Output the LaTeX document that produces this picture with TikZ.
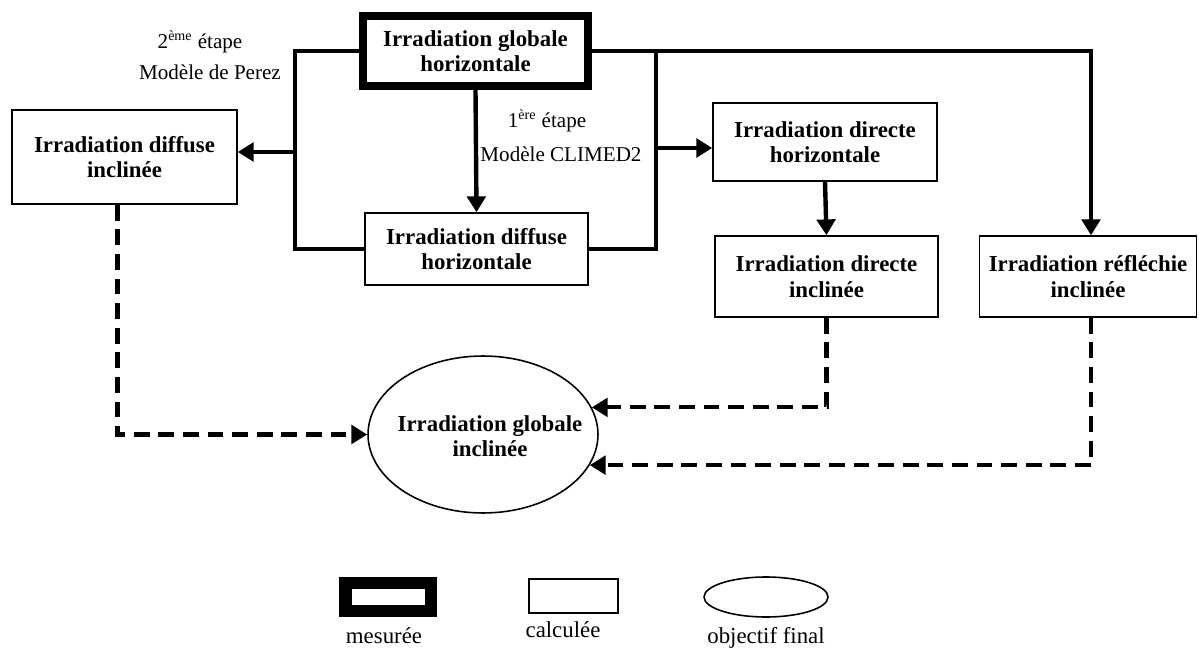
\documentclass[tikz,border=0pt]{standalone}
\usepackage{fontspec}
\setmainfont{Liberation Serif}
\usetikzlibrary{arrows.meta,shapes.geometric}
\begin{document}
\begin{tikzpicture}[x=0.02cm,y=-0.02cm,
  boxtext/.style={align=center,inner sep=0pt,font=\fontsize{13}{14.5}\selectfont\bfseries},
  calcbox/.style={boxtext,draw,line width=0.9pt},
  measbox/.style={boxtext,draw,line width=4.5pt},
  goal/.style={ellipse,draw,line width=0.9pt,inner sep=0pt},
  steplabel/.style={inner sep=0pt,font=\fontsize{12}{14}\selectfont},
  leglabel/.style={inner sep=0pt,font=\fontsize{13}{15}\selectfont},
  tip/.style={-{Triangle[length=9pt,width=10.5pt]}},
  flow/.style={line width=2.5pt},
  bracket/.style={line width=1.9pt},
  dashflow/.style={line width=2.4pt,dash pattern=on 9pt off 5pt}]
\useasboundingbox (0,0) rectangle (1199,648);

% nodes
\node[measbox,minimum width=4.5cm,minimum height=1.4cm] (top) at (475.5,51) {Irradiation globale\\horizontale};
\node[calcbox,minimum width=4.46cm,minimum height=1.44cm] (dh) at (476.5,249) {Irradiation diffuse\\horizontale};
\node[calcbox,minimum width=4.5cm,minimum height=1.88cm] (di) at (124.5,157) {Irradiation diffuse\\inclinée};
\node[calcbox,minimum width=4.48cm,minimum height=1.56cm] (dhz) at (825,142) {Irradiation directe\\horizontale};
\node[calcbox,minimum width=4.46cm,minimum height=1.62cm] (dinc) at (826.5,276.5) {Irradiation directe\\inclinée};
\node[calcbox,minimum width=4.34cm,minimum height=1.62cm] (refl) at (1088,276.5) {Irradiation réfléchie\\inclinée};
\node[goal,minimum width=4.6cm,minimum height=3.14cm] (gi) at (483,434.5) {};
\node[boxtext] (gitext) at (490,436) {Irradiation globale\\inclinée};

% step labels
\node[steplabel] (s2a) at (200,42) {2\textsuperscript{ème} étape};
\node[steplabel] (s2b) at (210,72) {Modèle de Perez};
\node[steplabel] (s1a) at (547,121) {1\textsuperscript{ère} étape};
\node[steplabel] (s1b) at (561,154) {Modèle CLIMED2};

% bracket points
\coordinate (lb) at (295,152);
\coordinate (rb) at (656,148);

% solid connectors
\draw[flow,tip] (top.south) -- (dh.north);
\draw[bracket] (top.west) -| (lb) |- (dh.west);
\draw[flow,tip] (lb) -- (lb -| di.east);
\draw[bracket] (top.east) -| (rb) |- (dh.east);
\draw[flow,tip] (rb) -- (rb -| dhz.west);
\draw[flow,tip] (top.east) -| ([xshift=0.06cm]refl.north);
\draw[flow,tip] (dhz.south) -- (dinc.north);

% dashed connectors
\draw[dashflow,tip] ([xshift=-0.14cm]di.south) |- (gi.west);
\draw[dashflow,tip] (dinc.south) |- (gi.14);
\draw[dashflow,tip] ([xshift=0.06cm]refl.south) |- (gi.-16);

% legend
\node[draw,line width=7.1pt,minimum width=1.71cm,minimum height=0.55cm,inner sep=0pt] (legm) at (388,597) {};
\node[draw,line width=0.9pt,minimum width=1.78cm,minimum height=0.68cm,inner sep=0pt] (legc) at (573.5,596) {};
\node[ellipse,draw,line width=0.9pt,minimum width=2.48cm,minimum height=0.8cm,inner sep=0pt] (lego) at (766,597) {};
\node[leglabel] (legmt) at (384,636) {mesurée};
\node[leglabel] (legct) at (563,630) {calculée};
\node[leglabel] (legot) at (766,638) {objectif final};
\end{tikzpicture}
\end{document}
